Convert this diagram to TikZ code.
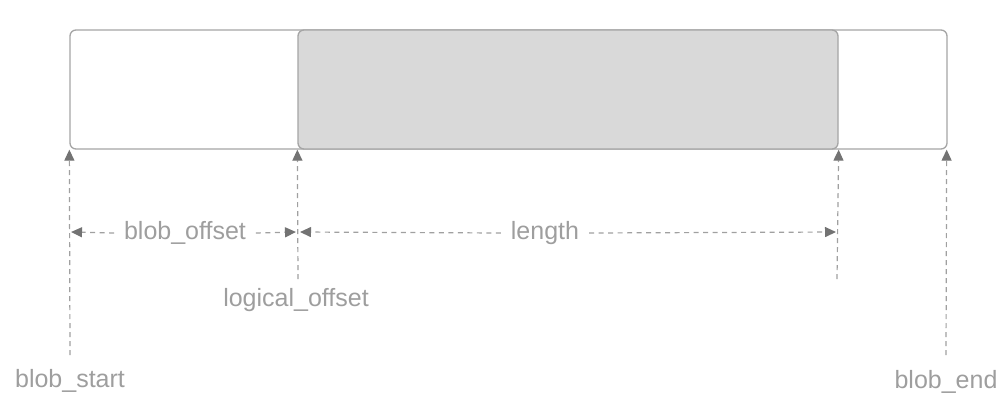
\documentclass[tikz,border=0pt]{standalone}
\usepackage{fontspec}
\setmainfont{Liberation Sans}
\usetikzlibrary{arrows.meta}
\definecolor{txtgray}{RGB}{158,158,158}
\definecolor{linegray}{RGB}{160,160,160}
\definecolor{tipgray}{RGB}{115,115,115}
\definecolor{boxfill}{RGB}{217,217,217}
\definecolor{boxline}{RGB}{165,165,165}
\tikzset{
  boxshape/.style={draw=boxline, line width=1.3pt, rounded corners=6pt, inner sep=0pt, minimum height=119pt},
  lbl/.style={text=txtgray, font=\fontsize{25}{29}\selectfont, inner sep=0pt},
  dimlbl/.style={lbl, outer sep=10pt},
  vline/.style={draw=linegray, line width=1.2pt, dash pattern=on 5pt off 4pt, -{Triangle[length=11pt,width=10pt,color=tipgray]}},
  hline/.style={draw=linegray, line width=1.2pt, dash pattern=on 5pt off 4.5pt, -{Triangle[length=11pt,width=10pt,color=tipgray]}},
}
\begin{document}
\begin{tikzpicture}[x=1pt,y=-1pt]
\useasboundingbox (0,0) rectangle (1006,408);
% boxes
\node[boxshape, fill=white, minimum width=877pt] (blob) at (508.5,89.5) {};
\node[boxshape, fill=boxfill, minimum width=540pt] (data) at (568,89.5) {};
% labels
\node[lbl] (bs) at (70,381) {blob\_start};
\node[lbl] (be) at (946,382) {blob\_end};
\node[lbl] (lo) at (296,300) {logical\_offset};
\node[dimlbl] (boff) at (185,233) {blob\_offset};
\node[dimlbl] (len) at (545,233) {length};
% coordinates
\coordinate (bsbot) at (70,355);
\coordinate (lobot) at (298,279);
\coordinate (lenbot) at (837,279);
\coordinate (bebot) at (946,355);
\coordinate (h1) at (71,232);
\coordinate (h2l) at (296,232);
\coordinate (h2r) at (300,232);
\coordinate (h3) at (836,232);
% vertical connectors
\draw[vline] (bsbot) -- (blob.south west);
\draw[vline] (lobot) -- (data.south west);
\draw[vline] (lenbot) -- (data.south east);
\draw[vline] (bebot) -- ([xshift=-1pt]blob.south east);
% dimension connectors
\draw[hline] (boff.west) -- (h1);
\draw[hline] (boff.east) -- (h2l);
\draw[hline] (len.west) -- (h2r);
\draw[hline] (len.east) -- (h3);
\end{tikzpicture}
\end{document}
